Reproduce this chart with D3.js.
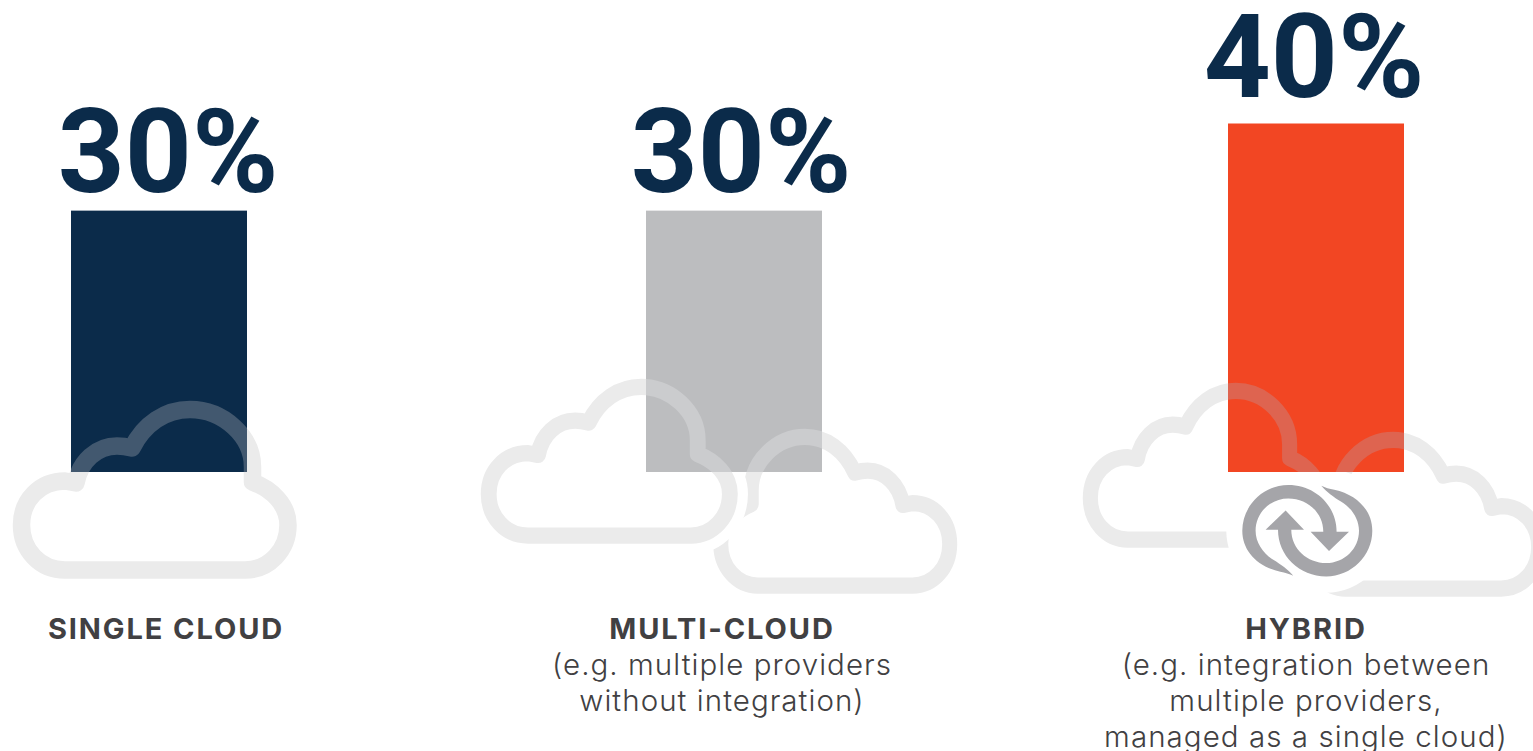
<!DOCTYPE html>
<html>
<head>
<meta charset="utf-8">
<script src="https://cdn.jsdelivr.net/npm/d3@7"></script>
<style>
  html, body { margin: 0; padding: 0; background: #fff; overflow: hidden; }
  svg { display: block; }
</style>
</head>
<body>
<script>
    // Chart data
    const categories = ["SINGLE CLOUD", "MULTI-CLOUD", "HYBRID"];
    const values = [30, 30, 40];
    const barColors = ["#0b2b4a", "#bcbdbf", "#f24623"];
    const overlayColors = ["#42586f", "#cbccce", "#de6450"];
    const detailLines = [
      [],
      ["(e.g. multiple providers", "without integration)"],
      ["(e.g. integration between", "multiple providers,", "managed as a single cloud)"],
    ];

    // SVG dimensions
    const width = 1533;
    const height = 751;
    const barWidth = 176;

    const x = d3.scaleOrdinal().domain(categories).range([71, 646, 1228]);
    const y = d3.scaleLinear().domain([0, 40]).range([472, 123.5]);
    const percentX = d3.scaleOrdinal().domain(categories).range([168, 741, 1314]);
    const percentY = d3.scaleLinear().domain([30, 40]).range([191.5, 97]);
    const labelX = d3.scaleOrdinal().domain(categories).range([166, 722, 1306]);

    // Cloud outlines for each panel, back to front
    const cloudSets = [
      [{ x: 13, y: 401, w: 284, h: 177 }],
      [
        { x: 713, y: 429, w: 244, h: 164, flip: true },
        { x: 481, y: 379, w: 257, h: 164, halo: true },
      ],
      [
        { x: 1301, y: 432, w: 245, h: 164, flip: true },
        { x: 1083, y: 383, w: 245, h: 164 },
      ],
    ];

    const cloudPath = "M52,169 C27,169 8.5,149 8.5,124 C8.5,99 27,80 52,80 L63,82 " +
      "C67,60 84,45 104,45 C110,45 115,46 119,47 C131,23 152,8.5 177,8.5 " +
      "C210,8.5 239.5,35 239.5,66 L239.5,81 C258,88 275,103 275,124 " +
      "C275,149 256,169 232,169 Z";

    // One half of the sync icon, the other half is the same shape turned round
    const syncPath = "M-14,45 C-18,43 -22,42 -27,41 C-50,36 -65,20 -65,0 " +
      "C-65,-25 -44,-45.7 -19,-45.7 C8,-45.7 29.3,-25 29.3,1 L41.7,1 L21.7,20.3 L3.3,1 L16,1 " +
      "C16,-18 0,-32.3 -19,-32.3 C-37,-32.3 -51.7,-18 -51.7,0 C-51.7,12 -44,23 -34,29 " +
      "C-26,34 -20,38 -14,45 Z";

    const svg = d3.select("body")
      .append("svg")
      .attr("width", width)
      .attr("height", height);

    function cloudTransform(c) {
      const sx = c.w / 284, sy = c.h / 177;
      return c.flip
        ? `translate(${c.x + c.w},${c.y}) scale(${-sx},${sy})`
        : `translate(${c.x},${c.y}) scale(${sx},${sy})`;
    }

    const panel = svg.selectAll("g.panel")
      .data(categories)
      .enter()
      .append("g")
      .attr("class", "panel");

    // Clouds behind the bars
    panel.each(function (d, i) {
      const g = d3.select(this);
      cloudSets[i].forEach(c => {
        if (c.halo) {
          g.append("path")
            .attr("d", cloudPath)
            .attr("transform", cloudTransform(c))
            .attr("fill", "none")
            .attr("stroke", "#fff")
            .attr("stroke-width", 40)
            .attr("stroke-linejoin", "round");
        }
        g.append("path")
          .attr("d", cloudPath)
          .attr("transform", cloudTransform(c))
          .attr("fill", "none")
          .attr("stroke", "#ebebeb")
          .attr("stroke-width", 17.5)
          .attr("stroke-linejoin", "round");
      });
    });

    // White gap round the sync icon
    const iconX = 1307.3, iconY = 530.7;
    svg.selectAll("circle.gap")
      .data([-19, 19])
      .enter()
      .append("circle")
      .attr("class", "gap")
      .attr("cx", d => iconX + d)
      .attr("cy", iconY)
      .attr("r", 62)
      .attr("fill", "#fff");

    // Bars
    svg.selectAll("rect.bar")
      .data(categories)
      .enter()
      .append("rect")
      .attr("class", "bar")
      .attr("x", d => x(d))
      .attr("y", (d, i) => y(values[i]))
      .attr("width", barWidth)
      .attr("height", (d, i) => y(0) - y(values[i]))
      .attr("fill", (d, i) => barColors[i]);

    // Lighter part of the clouds where they cross a bar
    categories.forEach((d, i) => {
      const clipId = `bar-clip-${i}`;
      svg.append("clipPath")
        .attr("id", clipId)
        .append("rect")
        .attr("x", x(d))
        .attr("y", y(values[i]))
        .attr("width", barWidth)
        .attr("height", y(0) - y(values[i]));

      svg.append("g")
        .attr("clip-path", `url(#${clipId})`)
        .selectAll("path")
        .data(cloudSets[i])
        .enter()
        .append("path")
        .attr("d", cloudPath)
        .attr("transform", cloudTransform)
        .attr("fill", "none")
        .attr("stroke", overlayColors[i])
        .attr("stroke-width", 17.5)
        .attr("stroke-linejoin", "round");
    });

    // Sync icon
    svg.selectAll("path.sync")
      .data([0, 180])
      .enter()
      .append("path")
      .attr("class", "sync")
      .attr("d", syncPath)
      .attr("transform", d => `translate(${iconX},${iconY}) rotate(${d})`)
      .attr("fill", "#a5a5a9");

    // Percent labels
    svg.selectAll("text.percent")
      .data(categories)
      .enter()
      .append("text")
      .attr("class", "percent")
      .attr("x", d => percentX(d))
      .attr("y", (d, i) => percentY(values[i]))
      .attr("text-anchor", "middle")
      .attr("font-family", "Roboto, sans-serif")
      .attr("font-weight", 700)
      .attr("font-size", 117)
      .attr("fill", "#0b2b4a")
      .text((d, i) => `${values[i]}%`);

    // Category names
    svg.selectAll("text.name")
      .data(categories)
      .enter()
      .append("text")
      .attr("class", "name")
      .attr("x", d => labelX(d))
      .attr("y", 639)
      .attr("text-anchor", "middle")
      .attr("font-family", "Inter, sans-serif")
      .attr("font-weight", 700)
      .attr("font-size", 29)
      .attr("letter-spacing", 1.9)
      .attr("fill", "#414042")
      .text(d => d);

    // Detail lines under the names
    categories.forEach((d, i) => {
      svg.selectAll(`text.detail-${i}`)
        .data(detailLines[i])
        .enter()
        .append("text")
        .attr("class", `detail-${i}`)
        .attr("x", labelX(d))
        .attr("y", (line, j) => 675 + j * 36)
        .attr("text-anchor", "middle")
        .attr("font-family", "Inter, sans-serif")
        .attr("font-weight", 300)
        .attr("font-size", 29.5)
        .attr("letter-spacing", 1.05)
        .attr("fill", "#414042")
        .text(line => line);
    });
</script>
</body>
</html>
